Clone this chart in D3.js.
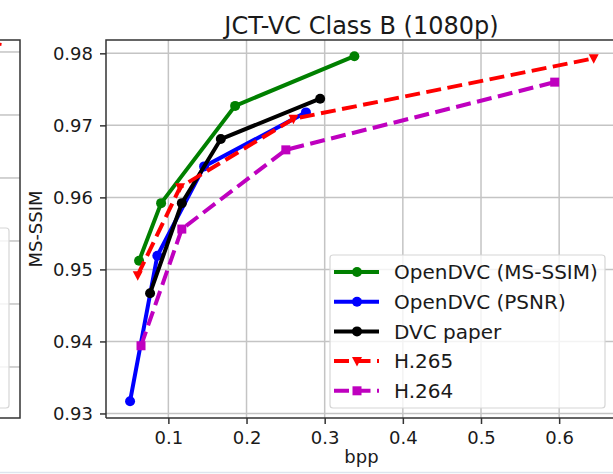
<!DOCTYPE html>
<html lang="en">
<head>
    <meta charset="UTF-8">
    <title>JCT-VC Class B (1080p)</title>
    <script src="https://cdn.jsdelivr.net/npm/d3@7"></script>
    <style>
        body {margin: 0; background: #fff;}
        svg {display: block; font-family: "DejaVu Sans", sans-serif;}
    </style>
</head>
<body>
<div id="graf"></div>
<script>
    // podatki (bpp, MS-SSIM)
    let msssimBpp  = [0.0625, 0.0907, 0.1854, 0.338];
    let msssimVal  = [0.9512, 0.9592, 0.9727, 0.9796];
    let psnrBpp    = [0.051, 0.0859, 0.1457, 0.276];
    let psnrVal    = [0.9317, 0.9519, 0.9643, 0.9718];
    let dvcBpp     = [0.0766, 0.1172, 0.1671, 0.2942];
    let dvcVal     = [0.9467, 0.9592, 0.9681, 0.9737];
    let h265Bpp    = [0.0608, 0.115, 0.26, 0.6442];
    let h265Val    = [0.9492, 0.9614, 0.9709, 0.9793];
    let h264Bpp    = [0.065, 0.1172, 0.2503, 0.5943];
    let h264Val    = [0.9394, 0.9556, 0.9666, 0.976];
    let xTicks     = [0.1, 0.2, 0.3, 0.4, 0.5, 0.6];
    let yTicks     = [0.93, 0.94, 0.95, 0.96, 0.97, 0.98];
    let leftTicks  = [0.93, 0.94, 0.95, 0.96, 0.97, 0.98];

    let series = [
        {name: "OpenDVC (MS-SSIM)", x: msssimBpp, y: msssimVal, color: "#008000", dash: null, marker: "circle"},
        {name: "OpenDVC (PSNR)",    x: psnrBpp,   y: psnrVal,   color: "#0000ff", dash: null, marker: "circle"},
        {name: "DVC paper",         x: dvcBpp,    y: dvcVal,    color: "#000000", dash: null, marker: "circle"},
        {name: "H.265",             x: h265Bpp,   y: h265Val,   color: "#ff0000", dash: "15,6.5", marker: "tri"},
        {name: "H.264",             x: h264Bpp,   y: h264Val,   color: "#bf00bf", dash: "15,6.5", marker: "square"}
    ];

    let W = 613, H = 474;
    let plot = {left: 106, right: 617, top: 40, bottom: 418};

    let svg = d3.select("#graf")
        .append("svg")
        .attr("width", W)
        .attr("height", H);

    svg.append("rect").attr("width", W).attr("height", H).attr("fill", "#fff");

    // --- delcek sosednjega grafa na levi ---
    let yLeft = d3.scaleLinear().domain([0.9219, 0.9819]).range([plot.bottom, plot.top]);
    svg.selectAll(".lgrid")
        .data(leftTicks)
        .enter().append("line")
        .attr("x1", 0).attr("x2", 20)
        .attr("y1", function(d) { return yLeft(d); })
        .attr("y2", function(d) { return yLeft(d); })
        .attr("stroke", "#c4c4c4").attr("stroke-width", 1.5);
    svg.append("rect")
        .attr("x", -20).attr("y", 228).attr("width", 29).attr("height", 180).attr("rx", 3)
        .attr("fill", "#fff").attr("fill-opacity", 0.8)
        .attr("stroke", "#d6d6d6").attr("stroke-width", 1.2);
    svg.append("line")
        .attr("x1", -6).attr("x2", 1.5)
        .attr("y1", yLeft(0.9814)).attr("y2", yLeft(0.9812))
        .attr("stroke", "#ff0000").attr("stroke-width", 3);
    svg.append("path")
        .attr("d", "M-1," + plot.top + "H20V" + plot.bottom + "H-1")
        .attr("fill", "none").attr("stroke", "#333").attr("stroke-width", 1.5);

    // --- glavni graf ---
    let x = d3.scaleLinear().domain([0.0202, 0.674]).range([plot.left, plot.right]);
    let y = d3.scaleLinear().domain([0.92937, 0.98185]).range([plot.bottom, plot.top]);

    svg.append("clipPath").attr("id", "clip")
        .append("rect")
        .attr("x", plot.left).attr("y", plot.top)
        .attr("width", plot.right - plot.left).attr("height", plot.bottom - plot.top);

    let grid = svg.append("g");
    grid.selectAll(".vx")
        .data(xTicks)
        .enter().append("line")
        .attr("x1", function(d) { return x(d); })
        .attr("x2", function(d) { return x(d); })
        .attr("y1", plot.top).attr("y2", plot.bottom)
        .attr("stroke", "#c4c4c4").attr("stroke-width", 1.5);
    grid.selectAll(".hy")
        .data(yTicks)
        .enter().append("line")
        .attr("x1", plot.left).attr("x2", plot.right)
        .attr("y1", function(d) { return y(d); })
        .attr("y2", function(d) { return y(d); })
        .attr("stroke", "#c4c4c4").attr("stroke-width", 1.5);

    // Add X axis
    let xAxis = svg.append("g")
        .attr("transform", "translate(0," + plot.bottom + ")")
        .call(d3.axisBottom(x).tickValues(xTicks).tickFormat(d3.format(".1f")).tickSizeOuter(0).tickSize(6).tickPadding(7));
    // Add Y axis
    let yAxis = svg.append("g")
        .attr("transform", "translate(" + plot.left + ",0)")
        .call(d3.axisLeft(y).tickValues(yTicks).tickFormat(d3.format(".2f")).tickSizeOuter(0).tickSize(6).tickPadding(7));
    [xAxis, yAxis].forEach(function(a) {
        a.select(".domain").remove();
        a.selectAll(".tick line").attr("stroke", "#333").attr("stroke-width", 1.5);
        a.selectAll(".tick text")
            .attr("fill", "#1a1a1a")
            .style("font-size", "18px")
            .style("font-family", "DejaVu Sans, sans-serif");
    });

    function drawMarker(g, type, color, cx, cy) {
        if (type === "circle") {
            g.append("circle").attr("cx", cx).attr("cy", cy).attr("r", 5).attr("fill", color);
        } else if (type === "square") {
            g.append("rect").attr("x", cx - 4.5).attr("y", cy - 4.5).attr("width", 9).attr("height", 9).attr("fill", color);
        } else {
            g.append("path")
                .attr("d", "M" + (cx - 5) + "," + (cy - 4) + "L" + (cx + 5) + "," + (cy - 4) + "L" + cx + "," + (cy + 5.5) + "Z")
                .attr("fill", color);
        }
    }

    series.forEach(function(s) {
        let pts = s.x.map(function(v, i) { return [v, s.y[i]]; });
        let g = svg.append("g");
        g.append("path")
            .datum(pts)
            .attr("fill", "none")
            .attr("stroke", s.color)
            .attr("stroke-width", 4)
            .attr("stroke-dasharray", s.dash)
            .attr("clip-path", "url(#clip)")
            .attr("d", d3.line()
                .x(function(d) { return x(d[0]); })
                .y(function(d) { return y(d[1]); })
            );
        pts.forEach(function(p) { drawMarker(g, s.marker, s.color, x(p[0]), y(p[1])); });
    });

    // okvir
    svg.append("path")
        .attr("d", "M" + plot.left + "," + plot.bottom + "V" + plot.top + "H" + plot.right +
                   "M" + plot.left + "," + plot.bottom + "H" + plot.right)
        .attr("fill", "none").attr("stroke", "#333").attr("stroke-width", 1.5);

    // naslov in oznake osi
    svg.append("text")
        .attr("x", (plot.left + plot.right) / 2).attr("y", 34)
        .attr("text-anchor", "middle")
        .attr("fill", "#1a1a1a")
        .style("font-size", "24px")
        .text("JCT-VC Class B (1080p)");
    svg.append("text")
        .attr("x", (plot.left + plot.right) / 2).attr("y", 463)
        .attr("text-anchor", "middle")
        .attr("fill", "#1a1a1a")
        .style("font-size", "18px")
        .text("bpp");
    svg.append("text")
        .attr("transform", "translate(42," + (plot.top + plot.bottom) / 2 + ") rotate(-90)")
        .attr("text-anchor", "middle")
        .attr("fill", "#1a1a1a")
        .style("font-size", "18px")
        .text("MS-SSIM");

    // legenda
    let leg = svg.append("g");
    leg.append("rect")
        .attr("x", 330).attr("y", 255).attr("width", 275).attr("height", 153).attr("rx", 3)
        .attr("fill", "#fff").attr("fill-opacity", 0.8)
        .attr("stroke", "#d6d6d6").attr("stroke-width", 1.2);
    series.forEach(function(s, i) {
        let ly = 272 + i * 29.7;
        leg.append("line")
            .attr("x1", 334).attr("x2", 379)
            .attr("y1", ly).attr("y2", ly)
            .attr("stroke", s.color).attr("stroke-width", 4)
            .attr("stroke-dasharray", s.dash ? "15,6.5" : null);
        drawMarker(leg, s.marker, s.color, 357, ly);
        leg.append("text")
            .attr("x", 394).attr("y", ly)
            .attr("dy", "0.36em")
            .attr("fill", "#1a1a1a")
            .style("font-size", "20px")
            .text(s.name);
    });

    // spodnji rob slike
    svg.append("line")
        .attr("x1", 0).attr("x2", W).attr("y1", 472.5).attr("y2", 472.5)
        .attr("stroke", "#dde5ee").attr("stroke-width", 1.5);
</script>
</body>
</html>
